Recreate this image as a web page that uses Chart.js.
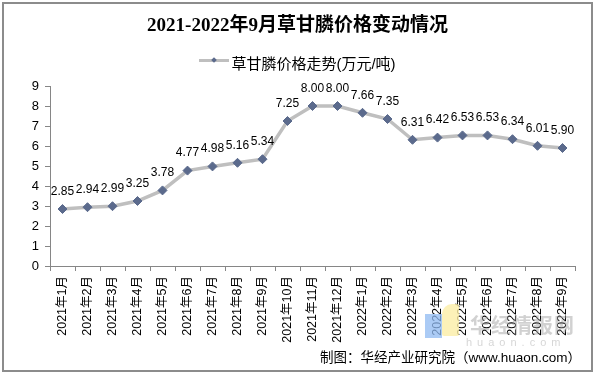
<!DOCTYPE html>
<html>
<head>
<meta charset="utf-8">
<script src="https://cdn.jsdelivr.net/npm/chart.js@4/dist/chart.umd.min.js"></script>
<style>
  html, body { margin: 0; padding: 0; background: #fff; }
  #wrap { position: relative; width: 595px; height: 374px; overflow: hidden; background: #fff; }
  #chart { position: absolute; left: 0; top: 0; }
  .frame { position: absolute; left: 2px; top: 2px; width: 587px; height: 366px; border: 2px solid #8c8c8c; pointer-events: none; }
  .title { position: absolute; left: 0; width: 595px; top: 15px; text-align: center;
           font: bold 19px "Liberation Serif", "DejaVu Serif", "Noto Sans CJK SC", serif; line-height: 20px; color: #000; }
  .legend { position: absolute; left: 0; width: 595px; top: 52px; text-align: center; line-height: 16px;
            font: 15px "Liberation Sans", "Noto Sans CJK SC", sans-serif; color: #000; white-space: nowrap; }
  .legend .sym { display: inline-block; position: relative; width: 30px; height: 16px; vertical-align: top; margin-right: 2px; }
  .legend .sym .ln { position: absolute; left: 0; top: 7px; width: 30px; height: 3px; background: #BFBFBF; }
  .legend .sym .dm { position: absolute; left: 12.5px; top: 6px; width: 4px; height: 4px; background: #5B6A8C; transform: rotate(45deg); }
  .footer { position: absolute; right: 14px; top: 346px; font: 13.5px "Liberation Sans", "Noto Sans CJK SC", sans-serif; color: #000; white-space: nowrap; }
  .wm { position: absolute; pointer-events: none; }
  .wm-blue { left: 425px; top: 314px; width: 17px; height: 24px; background: #8fbaf2; opacity: 0.75; }
  .wm-yellow { left: 442px; top: 304px; width: 17px; height: 32px; background: #fbeea6; opacity: 0.8; border-radius: 10px 2px 2px 2px; }
  .wm-text { left: 470px; top: 314px; font: bold 20px "Noto Sans CJK SC", sans-serif; color: #9a9a9a; opacity: 0.45; line-height: 22px; letter-spacing: 1px; }
  .wm-sub { left: 466px; top: 336px; font: 11px "Liberation Sans", sans-serif; color: #9a9a9a; opacity: 0.4; letter-spacing: 5px; }
</style>
</head>
<body>
<div id="wrap">
  <canvas id="chart" width="595" height="374"></canvas>
  <div class="title">2021-2022年9月草甘膦价格变动情况</div>
  <div class="legend"><span class="sym"><span class="ln"></span><span class="dm"></span></span>草甘膦价格走势(万元/吨)</div>
  <div class="wm wm-blue"></div>
  <div class="wm wm-yellow"></div>
  <div class="wm wm-text">华经情报网</div>
  <div class="wm wm-sub">huaon.com</div>
  <div class="footer">制图：华经产业研究院（www.huaon.com）</div>
  <div class="frame"></div>
</div>
<script>
const categories = ["2021年1月","2021年2月","2021年3月","2021年4月","2021年5月","2021年6月","2021年7月","2021年8月","2021年9月","2021年10月","2021年11月","2021年12月","2022年1月","2022年2月","2022年3月","2022年4月","2022年5月","2022年6月","2022年7月","2022年8月","2022年9月"];
const priceValues = [2.85,2.94,2.99,3.25,3.78,4.77,4.98,5.16,5.34,7.25,8.00,8.00,7.66,7.35,6.31,6.42,6.53,6.53,6.34,6.01,5.90];
const seriesName = "草甘膦价格走势(万元/吨)";
const yTickMin = 0, yTickMax = 9, yTickStep = 1;

const valueLabels = {
  id: 'valueLabels',
  afterDatasetsDraw(chart) {
    const ctx = chart.ctx;
    const meta = chart.getDatasetMeta(0);
    ctx.save();
    ctx.font = '12px "Liberation Sans", Arial, sans-serif';
    ctx.fillStyle = '#000';
    ctx.textAlign = 'center';
    ctx.textBaseline = 'middle';
    meta.data.forEach((pt, i) => {
      ctx.fillText(priceValues[i].toFixed(2), pt.x, pt.y - 17.5);
    });
    ctx.restore();
  }
};

new Chart(document.getElementById('chart'), {
  type: 'line',
  data: {
    labels: categories,
    datasets: [{
      label: seriesName,
      data: priceValues,
      borderColor: '#BFBFBF',
      borderWidth: 3.5,
      pointStyle: 'rectRot',
      pointRadius: 4.5,
      pointHoverRadius: 4.5,
      pointBackgroundColor: '#5B6A8C',
      pointBorderColor: '#5B6A8C',
      pointBorderWidth: 1,
      tension: 0,
      fill: false
    }]
  },
  options: {
    responsive: false,
    animation: false,
    devicePixelRatio: 1,
    layout: { padding: { top: 86, right: 20, left: 0, bottom: 0 } },
    plugins: {
      legend: { display: false },
      title: { display: false },
      tooltip: { enabled: false }
    },
    scales: {
      x: {
        type: 'category',
        offset: true,
        grid: { display: true, drawOnChartArea: false, drawTicks: true, tickLength: 5, color: '#868686', offset: true },
        border: { display: true, color: '#868686', width: 1 },
        ticks: { autoSkip: false, minRotation: 90, maxRotation: 90, padding: 5, color: '#000',
                 font: { family: '"Liberation Sans", "Noto Sans CJK SC", sans-serif', size: 12.5 } },
        afterFit(scale) { scale.height = 108; }
      },
      y: {
        min: yTickMin, max: yTickMax,
        grid: { display: true, drawOnChartArea: false, drawTicks: true, tickLength: 5, color: '#868686' },
        border: { display: true, color: '#868686', width: 1 },
        ticks: { stepSize: yTickStep, padding: 6, color: '#000',
                 font: { family: '"Liberation Sans", Arial, sans-serif', size: 13 } },
        afterFit(scale) { scale.width = 50; }
      }
    }
  },
  plugins: [valueLabels]
});
</script>
</body>
</html>
